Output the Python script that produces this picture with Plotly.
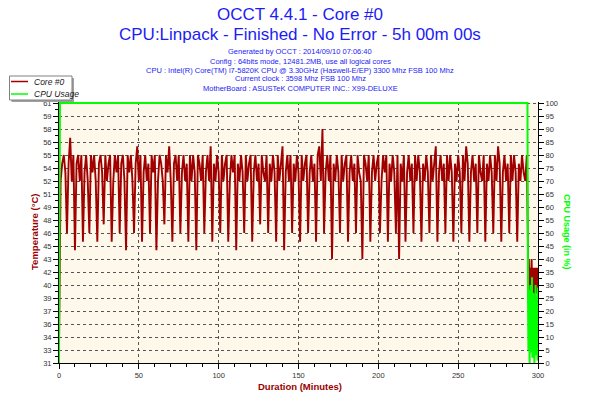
import plotly.graph_objects as go

# ---------------- data ----------------
# Core #0 temperature, one reading per minute (t = 0 .. 293)
temp_main = [
    33, 52, 54, 55, 53, 46, 54, 57, 52, 55,
    44, 54, 55, 52, 55, 45, 53, 55, 52, 46,
    55, 53, 55, 52, 45, 54, 55, 53, 47, 55,
    52, 54, 55, 45, 52, 55, 53, 55, 46, 54,
    55, 52, 44, 55, 53, 55, 52, 46, 54, 56,
    52, 55, 45, 53, 55, 52, 54, 46, 55, 53,
    55, 44, 52, 55, 54, 52, 47, 55, 53, 56,
    52, 45, 54, 55, 52, 55, 46, 53, 55, 52,
    54, 45, 55, 52, 55, 53, 44, 55, 54, 52,
    55, 46, 53, 55, 52, 56, 45, 54, 52, 55,
    53, 46, 55, 52, 54, 55, 45, 52, 55, 53,
    55, 44, 54, 52, 55, 53, 46, 55, 52, 54,
    55, 45, 53, 55, 52, 54, 47, 55, 53, 52,
    55, 46, 54, 52, 55, 53, 45, 55, 52, 54,
    56, 44, 53, 55, 52, 55, 46, 54, 52, 55,
    53, 45, 55, 52, 54, 55, 46, 53, 55, 52,
    54, 45, 55, 56, 52, 58, 46, 53, 55, 52,
    55, 43, 54, 52, 55, 53, 46, 55, 52, 54,
    55, 45, 53, 55, 52, 54, 46, 55, 53, 52,
    43, 55, 54, 52, 55, 45, 53, 55, 52, 54,
    55, 46, 52, 55, 53, 55, 45, 54, 52, 55,
    53, 46, 55, 43, 54, 52, 55, 45, 53, 55,
    52, 54, 46, 55, 52, 55, 53, 45, 54, 52,
    55, 53, 46, 55, 52, 54, 56, 45, 53, 55,
    52, 54, 46, 55, 52, 55, 53, 45, 54, 52,
    55, 53, 46, 55, 52, 56, 54, 45, 53, 55,
    52, 54, 46, 55, 53, 52, 55, 45, 54, 52,
    55, 53, 46, 55, 52, 56, 54, 45, 53, 55,
    52, 54, 46, 55, 52, 55, 53, 45, 54, 52,
    55, 53, 52, 55,
]
minutes_main = list(range(len(temp_main)))

# end of the test: readings every quarter minute
minutes_tail = [293.5, 293.75, 294.0, 294.25, 294.5, 294.75, 295.0, 295.25, 295.5,
                295.75, 296.0, 296.25, 296.5, 296.75, 297.0, 297.25, 297.5, 297.75,
                298.0, 298.25, 298.5, 298.75, 299.0, 299.25, 299.5, 299.75, 300.0]
temp_tail = [47, 42, 40, 43, 41, 39, 42, 40, 38, 41, 43, 40, 39, 42, 40, 38,
             41, 42, 39, 40, 42, 39, 41, 40, 42, 40, 39]
cpu_tail = [25, 25, 5, 28, 12, 0, 22, 30, 4, 18, 9, 33, 2, 20, 27, 6,
            15, 0, 24, 10, 30, 3, 19, 8, 26, 1, 29]

# CPU usage during the run (change points)
minutes_cpu_run = [0, 0.6, 293.4]
cpu_run = [0, 100, 100]

# axis ticks
x_ticks = [0, 50, 100, 150, 200, 250, 300]
cpu_ticks = list(range(0, 101, 5))
temp_tick_text = ["31", "33", "34", "36", "37", "39", "40", "42", "43", "45", "46",
                  "48", "49", "51", "52", "54", "55", "56", "58", "59", "61"]
TEMP_MIN, TEMP_MAX = 31, 61
CPU_MAX = 100

title1 = "OCCT 4.4.1 - Core #0"
title2 = "CPU:Linpack - Finished - No Error - 5h 00m 00s"
info_lines = [
    "Generated by OCCT : 2014/09/10 07:06:40",
    "Config : 64bits mode, 12481.2MB, use all logical cores",
    "CPU : Intel(R) Core(TM) i7-5820K CPU @ 3.30GHz (Haswell-E/EP) 3300 Mhz FSB 100 Mhz",
    "Current clock : 3598 Mhz FSB 100 Mhz",
    "MotherBoard : ASUSTeK COMPUTER INC.: X99-DELUXE",
]

# ---------------- layout constants ----------------
W, H = 600, 400
L, R, T, B = 59, 62, 102, 37
PW, PH = W - L - R, H - T - B
HEADROOM = 0.4  # small extra room above 100 % so the top line is not clipped
RED = "#A00000"
GREEN = "#00FF00"
BLUE = "#1c1cf5"
FONT = "Liberation Sans, Arial, sans-serif"


def fx(px):
    return (px - L) / PW


def fy(py):
    return (H - B - py) / PH


temp_step = (TEMP_MAX - TEMP_MIN) / (len(temp_tick_text) - 1)
temp_tickvals = [TEMP_MIN + i * temp_step for i in range(len(temp_tick_text))]
temp_minor = [v + temp_step / 2 for v in temp_tickvals[:-1]]
temp_top = TEMP_MAX + HEADROOM * (TEMP_MAX - TEMP_MIN) / CPU_MAX

fig = go.Figure()
fig.add_trace(go.Scatter(
    x=minutes_main + minutes_tail, y=temp_main + temp_tail,
    mode="lines", name="Core #0", line=dict(color=RED, width=1.9),
    showlegend=False, yaxis="y"))
fig.add_trace(go.Scatter(
    x=minutes_cpu_run + minutes_tail, y=cpu_run + cpu_tail,
    mode="lines", name="CPU Usage", line=dict(color=GREEN, width=2),
    showlegend=False, yaxis="y2"))

annotations = [
    dict(x=fx(300), y=fy(14), text=title1, font=dict(size=17, color=BLUE, family=FONT)),
    dict(x=fx(300), y=fy(34), text=title2, font=dict(size=17, color=BLUE, family=FONT)),
]
for i, line in enumerate(info_lines):
    annotations.append(dict(x=fx(300), y=fy(52 + 9 * i), text=line,
                            font=dict(size=7.5, color=BLUE, family=FONT)))
annotations += [
    dict(x=fx(300), y=fy(386), text="<b>Duration (Minutes)</b>",
         font=dict(size=9.5, color="#990000", family=FONT)),
    dict(x=fx(34), y=fy(232), text="<b>Temperature (°C)</b>", textangle=-90,
         font=dict(size=9.5, color="#990000", family=FONT)),
    dict(x=fx(567), y=fy(232), text="<b>CPU Usage (in %)</b>", textangle=90,
         font=dict(size=9, color=GREEN, family=FONT)),
    dict(x=fx(32), y=fy(81.5), text="<i>Core #0</i>", xanchor="left",
         font=dict(size=8.5, color="#222", family=FONT)),
    dict(x=fx(32), y=fy(94), text="<i>CPU Usage</i>", xanchor="left",
         font=dict(size=8.5, color="#222", family=FONT)),
]
for a in annotations:
    a.setdefault("xref", "paper")
    a.setdefault("yref", "paper")
    a.setdefault("showarrow", False)
    a.setdefault("xanchor", "center")
    a.setdefault("yanchor", "middle")

shapes = [
    dict(type="rect", xref="paper", yref="paper", x0=fx(11.5), x1=fx(74), y0=fy(78), y1=fy(102),
         fillcolor="#a0a0a0", line=dict(width=0)),
    dict(type="rect", xref="paper", yref="paper", x0=fx(9.5), x1=fx(72), y0=fy(76), y1=fy(100),
         fillcolor="white", line=dict(color="#808080", width=1)),
    dict(type="line", xref="paper", yref="paper", x0=fx(11), x1=fx(28), y0=fy(81.5), y1=fy(81.5),
         line=dict(color=RED, width=1.5)),
    dict(type="line", xref="paper", yref="paper", x0=fx(11), x1=fx(28), y0=fy(94), y1=fy(94),
         line=dict(color=GREEN, width=1.5)),
]

tickfont = dict(size=7.5, color="#333", family=FONT)
fig.update_layout(
    width=W, height=H,
    margin=dict(l=L, r=R, t=T, b=B, pad=0),
    paper_bgcolor="white",
    plot_bgcolor="#FEF8EA",
    showlegend=False,
    annotations=annotations,
    shapes=shapes,
    xaxis=dict(
        range=[0, 300], tickmode="array", tickvals=x_ticks,
        showline=True, linecolor="black", linewidth=1,
        ticks="outside", ticklen=5, tickcolor="black", tickfont=tickfont,
        showgrid=True, gridcolor="#555", griddash="dot", gridwidth=1,
        zeroline=False,
        minor=dict(dtick=10, tick0=0, ticks="outside", ticklen=3, tickcolor="black", showgrid=False),
    ),
    yaxis=dict(
        range=[TEMP_MIN, temp_top], tickmode="array", tickvals=temp_tickvals,
        ticktext=temp_tick_text,
        showline=True, linecolor="black", linewidth=1,
        ticks="outside", ticklen=5, tickcolor="black", tickfont=tickfont,
        showgrid=True, gridcolor="#555", griddash="dot", gridwidth=1,
        zeroline=False,
        minor=dict(tickmode="array", tickvals=temp_minor, ticks="outside", ticklen=3,
                   tickcolor="black", showgrid=False),
    ),
    yaxis2=dict(
        range=[0, CPU_MAX + HEADROOM], overlaying="y", side="right", tickmode="array",
        tickvals=cpu_ticks,
        showline=True, linecolor="black", linewidth=1,
        ticks="outside", ticklen=5, tickcolor="black", tickfont=tickfont,
        showgrid=False, zeroline=False,
        minor=dict(dtick=2.5, tick0=0, ticks="outside", ticklen=3, tickcolor="black", showgrid=False),
    ),
)

fig.write_html("out.html",
               config={"displayModeBar": False},
               post_script="document.body.style.margin='0';document.body.style.padding='0';")
